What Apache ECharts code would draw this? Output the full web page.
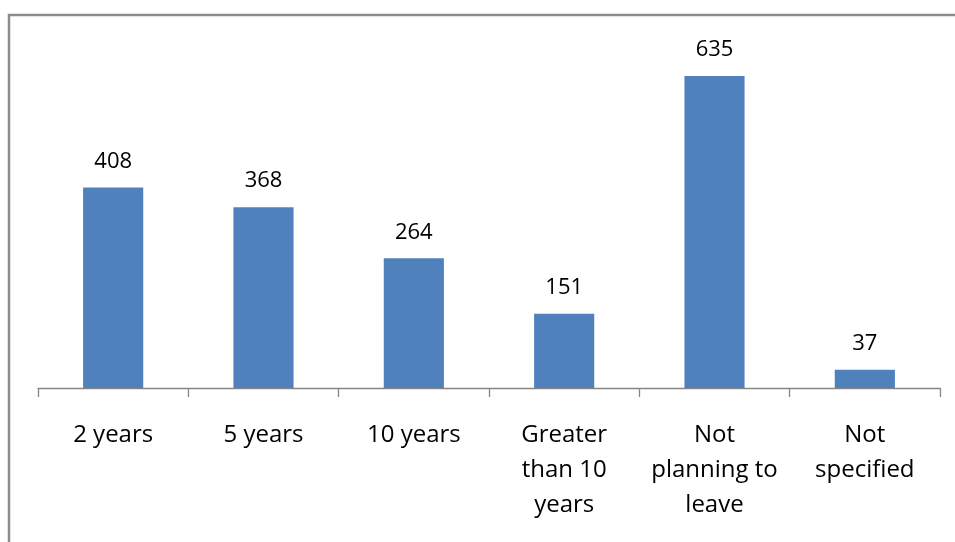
<!DOCTYPE html>
<html>
<head>
<meta charset="utf-8">
<script src="https://cdn.jsdelivr.net/npm/echarts@6/dist/echarts.min.js"></script>
<style>
  html, body { margin: 0; padding: 0; background: #fff; }
  #chart { width: 955px; height: 542px; }
</style>
</head>
<body>
<div id="chart"></div>
<script>
const categories = ["2 years", "5 years", "10 years", "Greater\nthan 10\nyears", "Not\nplanning to\nleave", "Not\nspecified"];
const counts = [408, 368, 264, 151, 635, 37];

const font = "'Open Sans', 'Noto Sans', sans-serif";
const chart = echarts.init(document.getElementById("chart"));

chart.setOption({
  animation: false,
  backgroundColor: "#fff",
  graphic: [
    {
      type: "rect",
      shape: { x: 9, y: 15, width: 960, height: 540 },
      style: { fill: "none", stroke: "#8c8c8c", lineWidth: 2.5 },
      silent: true,
    },
  ],
  grid: { left: 38, right: 15, top: 44, bottom: 154 },
  xAxis: {
    type: "category",
    data: categories,
    axisLine: { lineStyle: { color: "#868686", width: 1.3 } },
    axisTick: { show: true, length: 9, lineStyle: { color: "#868686", width: 1.3 } },
    axisLabel: {
      interval: 0,
      color: "#000",
      fontFamily: font,
      fontSize: 24,
      lineHeight: 35,
      margin: 30,
      verticalAlign: "top",
    },
  },
  yAxis: {
    type: "value",
    min: 0,
    max: 700,
    show: false,
    splitLine: { show: false },
  },
  series: [
    {
      type: "bar",
      data: counts,
      barWidth: "40%",
      itemStyle: { color: "#4f81bd" },
      label: {
        show: true,
        position: "top",
        distance: 15,
        color: "#000",
        fontFamily: font,
        fontSize: 22,
      },
    },
  ],
});
</script>
</body>
</html>
